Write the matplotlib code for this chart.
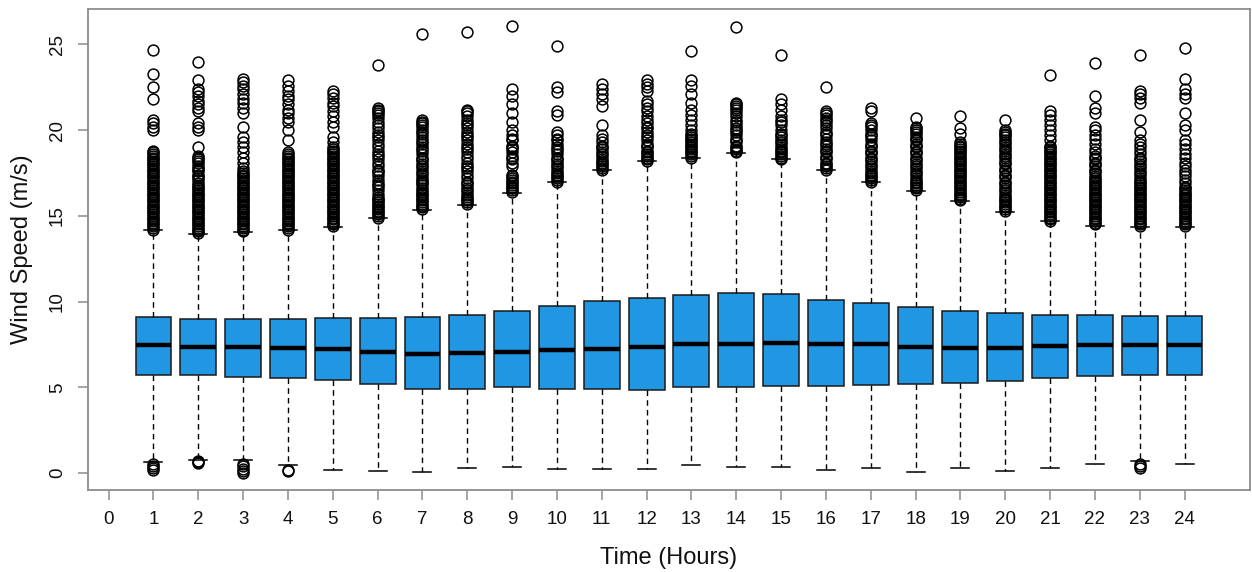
import matplotlib
matplotlib.use("Agg")
import matplotlib.pyplot as plt

plt.rcParams['font.family'] = ['Liberation Sans', 'DejaVu Sans']

hours = list(range(1, 25))
q1 = [5.70, 5.70, 5.62, 5.57, 5.44, 5.19, 4.91, 4.91, 5.00, 4.91, 4.91, 4.87,
      5.00, 5.00, 5.08, 5.08, 5.14, 5.19, 5.23, 5.36, 5.53, 5.66, 5.70, 5.70]
median = [7.47, 7.36, 7.34, 7.29, 7.21, 7.06, 6.96, 6.98, 7.06, 7.17, 7.25, 7.36,
          7.53, 7.53, 7.59, 7.55, 7.51, 7.36, 7.29, 7.29, 7.42, 7.47, 7.47, 7.47]
q3 = [9.08, 9.00, 9.00, 9.00, 9.02, 9.02, 9.10, 9.23, 9.48, 9.72, 10.04, 10.23,
      10.40, 10.49, 10.44, 10.12, 9.89, 9.70, 9.46, 9.32, 9.23, 9.21, 9.17, 9.15]
whisker_low = [0.66, 0.74, 0.74, 0.47, 0.17, 0.13, 0.04, 0.29, 0.38, 0.21, 0.21, 0.21,
               0.45, 0.38, 0.38, 0.17, 0.29, 0.08, 0.29, 0.13, 0.29, 0.51, 0.68, 0.51]
whisker_high = [14.17, 13.95, 14.04, 14.17, 14.36, 14.87, 15.36, 15.61, 16.31, 16.95, 17.68, 18.19,
                18.40, 18.67, 18.29, 17.68, 16.99, 16.48, 15.85, 15.25, 14.70, 14.42, 14.33, 14.33]

fliers_high = [
    [24.7, 23.3, 22.5, 21.8, 20.6, 20.4, 20.2, 20.0, 18.8, 18.7, 18.6, 18.5, 18.4, 18.3, 18.2, 18.1, 18.0,
     17.9, 17.8, 17.7, 17.6, 17.5, 17.4, 17.3, 17.2, 17.1, 17.0, 16.9, 16.8, 16.7, 16.6, 16.5, 16.4, 16.3,
     16.2, 16.1, 16.0, 15.9, 15.8, 15.7, 15.6, 15.5, 15.4, 15.3, 15.2, 15.1, 15.0, 14.9, 14.8, 14.7, 14.6,
     14.5, 14.4, 14.3, 14.2],
    [24.0, 22.9, 22.4, 22.2, 22.0, 21.7, 21.5, 21.3, 21.1, 20.4, 20.2, 20.0, 19.0, 18.5, 18.4, 18.3, 18.2,
     18.1, 17.9, 17.8, 17.7, 17.6, 17.4, 17.3, 17.2, 17.1, 16.9, 16.8, 16.7, 16.6, 16.5, 16.4, 16.3, 16.2,
     16.1, 16.0, 15.9, 15.8, 15.7, 15.6, 15.5, 15.4, 15.3, 15.2, 15.1, 15.0, 14.9, 14.8, 14.7, 14.6, 14.5,
     14.4, 14.3, 14.2, 14.1, 14.0],
    [23.0, 22.8, 22.6, 22.4, 22.1, 21.8, 21.6, 21.3, 21.0, 20.2, 19.6, 19.3, 19.0, 18.7, 18.4, 18.1, 17.8,
     17.6, 17.5, 17.4, 17.3, 17.2, 17.1, 17.0, 16.9, 16.8, 16.7, 16.6, 16.5, 16.4, 16.3, 16.2, 16.1, 16.0,
     15.9, 15.8, 15.7, 15.6, 15.5, 15.4, 15.3, 15.2, 15.1, 15.0, 14.9, 14.8, 14.7, 14.6, 14.5, 14.4, 14.3,
     14.2, 14.1],
    [22.9, 22.6, 22.3, 22.0, 21.8, 21.5, 21.2, 21.0, 20.7, 20.5, 20.0, 19.4, 18.7, 18.6, 18.5, 18.4, 18.3,
     18.2, 18.1, 18.0, 17.9, 17.8, 17.7, 17.6, 17.5, 17.4, 17.3, 17.2, 17.1, 17.0, 16.9, 16.8, 16.7, 16.6,
     16.5, 16.4, 16.3, 16.2, 16.1, 16.0, 15.9, 15.8, 15.7, 15.6, 15.5, 15.4, 15.3, 15.2, 15.1, 15.0, 14.9,
     14.8, 14.7, 14.6, 14.5, 14.4, 14.3, 14.2],
    [22.3, 22.1, 21.9, 21.6, 21.4, 21.1, 20.8, 20.5, 20.2, 19.6, 19.3, 19.0, 18.9, 18.8, 18.7, 18.6, 18.5,
     18.4, 18.3, 18.2, 18.1, 18.0, 17.9, 17.8, 17.7, 17.6, 17.5, 17.4, 17.3, 17.2, 17.1, 17.0, 16.9, 16.8,
     16.7, 16.6, 16.5, 16.4, 16.3, 16.2, 16.1, 16.0, 15.9, 15.8, 15.7, 15.6, 15.5, 15.4, 15.3, 15.2, 15.1,
     15.0, 14.9, 14.8, 14.7, 14.6, 14.5, 14.4],
    [23.8, 21.3, 21.2, 21.1, 21.0, 20.9, 20.7, 20.5, 20.3, 20.1, 19.9, 19.7, 19.6, 19.4, 19.2, 19.0, 18.8,
     18.6, 18.5, 18.3, 18.1, 17.9, 17.7, 17.6, 17.5, 17.3, 17.1, 16.9, 16.8, 16.7, 16.5, 16.3, 16.1, 16.0,
     15.9, 15.8, 15.7, 15.6, 15.5, 15.4, 15.3, 15.2, 15.1, 15.0, 14.9],
    [25.6, 20.6, 20.5, 20.4, 20.3, 20.2, 20.0, 19.9, 19.8, 19.6, 19.4, 19.3, 19.2, 19.0, 18.9, 18.8, 18.6,
     18.4, 18.3, 18.2, 18.0, 17.9, 17.8, 17.6, 17.5, 17.4, 17.2, 17.1, 17.0, 16.9, 16.8, 16.6, 16.5, 16.4,
     16.3, 16.2, 16.1, 16.0, 15.9, 15.8, 15.7, 15.6, 15.5, 15.4],
    [25.7, 21.2, 21.1, 21.0, 20.8, 20.6, 20.4, 20.3, 20.1, 19.9, 19.7, 19.6, 19.4, 19.2, 19.0, 18.9, 18.7,
     18.5, 18.3, 18.1, 17.9, 17.8, 17.6, 17.4, 17.2, 17.0, 16.9, 16.8, 16.6, 16.5, 16.4, 16.2, 16.1, 16.0,
     15.9, 15.8, 15.7],
    [26.1, 22.4, 22.0, 21.5, 21.0, 20.5, 20.0, 19.7, 19.5, 19.4, 19.1, 19.0, 18.9, 18.7, 18.5, 18.4, 18.3,
     18.1, 17.9, 17.4, 17.3, 17.2, 17.1, 17.0, 16.9, 16.8, 16.7, 16.6, 16.5, 16.4],
    [24.9, 22.5, 22.2, 21.1, 20.9, 19.9, 19.7, 19.5, 19.4, 19.2, 19.0, 18.9, 18.8, 18.6, 18.4, 18.3, 18.2,
     18.0, 17.9, 17.8, 17.6, 17.5, 17.4, 17.3, 17.2, 17.1, 17.0],
    [22.7, 22.4, 22.1, 21.8, 21.4, 20.3, 19.7, 19.5, 19.3, 19.1, 19.0, 18.9, 18.7, 18.6, 18.5, 18.3, 18.2,
     18.1, 18.0, 17.9, 17.8, 17.7],
    [22.9, 22.7, 22.5, 22.3, 21.7, 21.5, 21.3, 21.1, 20.8, 20.6, 20.4, 20.2, 20.1, 19.9, 19.7, 19.6, 19.4,
     19.2, 19.1, 19.0, 18.8, 18.7, 18.6, 18.5, 18.4, 18.3, 18.2],
    [24.6, 22.9, 22.6, 22.1, 21.6, 21.2, 20.9, 20.6, 20.3, 20.0, 19.8, 19.7, 19.6, 19.5, 19.4, 19.3, 19.2,
     19.1, 19.0, 18.9, 18.8, 18.7, 18.6, 18.5, 18.4],
    [26.0, 21.6, 21.5, 21.4, 21.3, 21.2, 21.0, 20.8, 20.6, 20.5, 20.3, 20.1, 20.0, 19.9, 19.7, 19.5, 19.4,
     19.3, 19.1, 19.0, 18.9, 18.8, 18.7],
    [24.4, 21.8, 21.5, 21.2, 20.8, 20.6, 20.5, 20.3, 20.0, 19.8, 19.7, 19.6, 19.4, 19.3, 19.2, 19.0, 18.9,
     18.8, 18.7, 18.6, 18.5, 18.4, 18.3],
    [22.5, 21.1, 21.0, 20.9, 20.7, 20.6, 20.5, 20.3, 20.1, 19.9, 19.8, 19.7, 19.5, 19.3, 19.2, 19.1, 18.9,
     18.8, 18.7, 18.5, 18.4, 18.3, 18.1, 18.0, 17.9, 17.8, 17.7],
    [21.3, 21.1, 20.4, 20.3, 20.2, 20.0, 19.8, 19.7, 19.6, 19.4, 19.2, 19.1, 19.0, 18.8, 18.7, 18.6, 18.4,
     18.3, 18.2, 18.0, 17.9, 17.8, 17.6, 17.5, 17.4, 17.3, 17.2, 17.1, 17.0],
    [20.7, 20.2, 20.1, 20.0, 19.9, 19.8, 19.6, 19.5, 19.4, 19.2, 19.1, 19.0, 18.8, 18.7, 18.6, 18.4, 18.3,
     18.2, 18.0, 17.9, 17.8, 17.6, 17.5, 17.4, 17.2, 17.1, 17.0, 16.9, 16.8, 16.7, 16.6, 16.5],
    [20.8, 20.1, 19.8, 19.3, 19.2, 19.1, 19.0, 18.9, 18.8, 18.7, 18.6, 18.5, 18.4, 18.3, 18.2, 18.1, 18.0,
     17.9, 17.8, 17.7, 17.6, 17.5, 17.4, 17.3, 17.2, 17.1, 17.0, 16.9, 16.8, 16.7, 16.6, 16.5, 16.4, 16.3,
     16.2, 16.1, 16.0, 15.9],
    [20.6, 20.0, 19.9, 19.8, 19.7, 19.6, 19.4, 19.3, 19.2, 19.0, 18.9, 18.8, 18.6, 18.5, 18.4, 18.2, 18.1,
     18.0, 17.8, 17.7, 17.6, 17.4, 17.3, 17.2, 17.0, 16.9, 16.8, 16.6, 16.5, 16.4, 16.2, 16.1, 16.0, 15.9,
     15.8, 15.7, 15.6, 15.5, 15.4, 15.3],
    [23.2, 21.1, 20.9, 20.6, 20.3, 20.0, 19.7, 19.4, 19.1, 19.0, 18.9, 18.8, 18.7, 18.6, 18.5, 18.4, 18.3,
     18.2, 18.1, 18.0, 17.9, 17.8, 17.7, 17.6, 17.5, 17.4, 17.3, 17.2, 17.1, 17.0, 16.9, 16.8, 16.7, 16.6,
     16.5, 16.4, 16.3, 16.2, 16.1, 16.0, 15.9, 15.8, 15.7, 15.6, 15.5, 15.4, 15.3, 15.2, 15.1, 15.0, 14.9,
     14.8, 14.7],
    [23.9, 22.0, 21.3, 21.0, 20.2, 20.0, 19.7, 19.5, 19.2, 18.9, 18.7, 18.5, 18.4, 18.3, 18.1, 18.0, 17.9,
     17.7, 17.6, 17.5, 17.3, 17.2, 17.1, 17.0, 16.9, 16.8, 16.7, 16.6, 16.5, 16.4, 16.3, 16.2, 16.1, 16.0,
     15.9, 15.8, 15.7, 15.6, 15.5, 15.4, 15.3, 15.2, 15.1, 15.0, 14.9, 14.8, 14.7, 14.6, 14.5],
    [24.4, 22.3, 22.1, 21.9, 21.6, 20.6, 19.9, 19.4, 19.2, 19.0, 18.8, 18.6, 18.4, 18.3, 18.2, 18.0, 17.9,
     17.8, 17.6, 17.5, 17.4, 17.2, 17.1, 17.0, 16.9, 16.8, 16.7, 16.6, 16.5, 16.4, 16.3, 16.2, 16.1, 16.0,
     15.9, 15.8, 15.7, 15.6, 15.5, 15.4, 15.3, 15.2, 15.1, 15.0, 14.9, 14.8, 14.7, 14.6, 14.5, 14.4],
    [24.8, 23.0, 22.4, 22.1, 21.9, 21.0, 20.3, 20.0, 19.4, 19.2, 18.9, 18.6, 18.4, 18.1, 17.9, 17.7, 17.5,
     17.3, 17.1, 16.9, 16.7, 16.6, 16.5, 16.4, 16.3, 16.2, 16.1, 16.0, 15.9, 15.8, 15.7, 15.6, 15.5, 15.4,
     15.3, 15.2, 15.1, 15.0, 14.9, 14.8, 14.7, 14.6, 14.5, 14.4],
]

fliers_low = [
    [0.55, 0.42, 0.28, 0.15], [0.72, 0.64, 0.56], [0.55, 0.40, 0.25, 0.10, 0.02], [0.20, 0.10],
    [], [], [], [], [], [], [], [], [], [], [], [], [], [], [], [], [], [],
    [0.50, 0.40, 0.30], [],
]

xtick_values = list(range(0, 25))
ytick_values = [0, 5, 10, 15, 20, 25]

box_color = '#2196E3'
frame_color = '#8c8c8c'

stats = []
for i in range(len(hours)):
    stats.append({
        'med': median[i], 'q1': q1[i], 'q3': q3[i],
        'whislo': whisker_low[i], 'whishi': whisker_high[i],
        'fliers': fliers_high[i] + fliers_low[i],
    })

fig = plt.figure(figsize=(12.52, 5.72), dpi=100)
ax = fig.add_axes([88 / 1252, 1 - 490 / 572, (1250 - 88) / 1252, (490 - 8.8) / 572])

ax.bxp(stats, positions=hours, widths=0.8, patch_artist=True, manage_ticks=False,
       boxprops=dict(facecolor=box_color, edgecolor='#1a1a1a', linewidth=1.1),
       medianprops=dict(color='black', linewidth=3.2, solid_capstyle='butt'),
       whiskerprops=dict(color='black', linewidth=1.0, linestyle=(0, (4, 3))),
       capprops=dict(color='black', linewidth=1.1),
       capwidths=0.4,
       flierprops=dict(marker='o', markerfacecolor='none', markeredgecolor='black',
                       markersize=7.8, markeredgewidth=1.1, linestyle='none'))

ax.set_xlim(-0.46, 25.46)
ax.set_ylim(-0.99, 27.08)
ax.set_xticks(xtick_values)
ax.set_xticklabels([str(v) for v in xtick_values])
ax.set_yticks(ytick_values)
ax.set_yticklabels([str(v) for v in ytick_values], rotation=90, va='center')

for sp in ax.spines.values():
    sp.set_color(frame_color)
    sp.set_linewidth(1.3)

ax.tick_params(axis='both', which='major', length=7, width=1.1, color=frame_color,
               labelsize=13.5, labelcolor='#111111')
ax.tick_params(axis='x', pad=8)
ax.tick_params(axis='y', pad=9)

ax.set_xlabel('Time (Hours)', fontsize=17, color='#111111', labelpad=14)
ax.set_ylabel('Wind Speed (m/s)', fontsize=17, color='#111111', labelpad=11)

fig.savefig('out.png', dpi=100)
